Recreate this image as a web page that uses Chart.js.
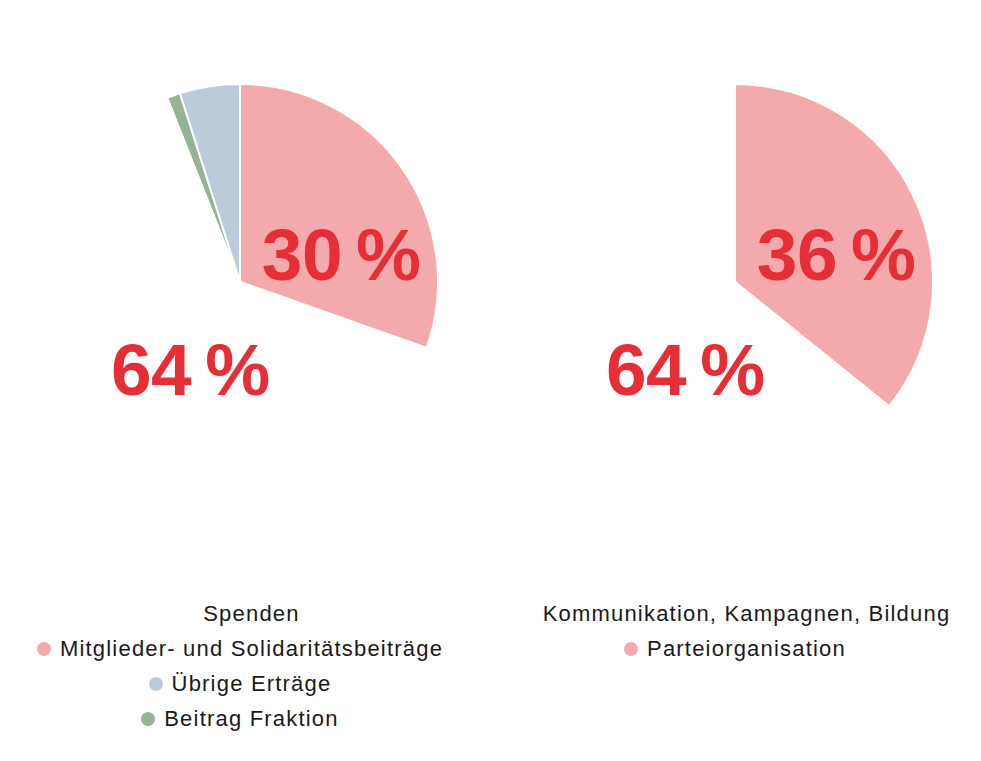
<!DOCTYPE html>
<html>
<head>
<meta charset="utf-8">
<script src="https://cdn.jsdelivr.net/npm/chart.js@4"></script>
<style>
  html, body { margin: 0; padding: 0; background: #fff; }
  body { width: 981px; height: 761px; position: relative; overflow: hidden; font-family: "Liberation Sans", Arial, sans-serif; }
  .pie { position: absolute; top: 83px; height: 398px; }
  .legend { position: absolute; top: 596px; margin: 0; padding: 0; list-style: none; font-size: 22px; letter-spacing: 1.2px; color: #1a1a1a; }
  .legend li { display: flex; justify-content: center; align-items: center; height: 35px; white-space: nowrap; }
  .legend .dot { display: inline-block; width: 14px; height: 14px; border-radius: 50%; margin-right: 9px; }
</style>
</head>
<body>
<div class="pie" style="left:0;width:480px"><canvas id="left-chart"></canvas></div>
<div class="pie" style="left:490px;width:490px"><canvas id="right-chart"></canvas></div>
<ul class="legend" id="left-legend" style="left:0;width:480px"></ul>
<ul class="legend" id="right-legend" style="left:490px;width:490px"></ul>
<script>
  var leftLabels = ['Spenden', 'Mitglieder- und Solidaritätsbeiträge', 'Übrige Erträge', 'Beitrag Fraktion'];
  var leftValues = [63.6, 30.4, 4.9, 1.1];
  var leftColors = ['#ffffff', '#f4a9ad', '#bbcbda', '#96b495'];

  var rightLabels = ['Kommunikation, Kampagnen, Bildung', 'Parteiorganisation'];
  var rightValues = [64.2, 35.8];
  var rightColors = ['#ffffff', '#f4a9ad'];

  // big red percentages, only on the larger slices
  var pctLabels = {
    id: 'pctLabels',
    afterDatasetsDraw: function(chart) {
      var ctx = chart.ctx;
      var values = chart.data.datasets[0].data;
      chart.getDatasetMeta(0).data.forEach(function(arc, i) {
        if (values[i] < 10) return;
        var p = arc.getProps(['x', 'y', 'startAngle', 'endAngle', 'outerRadius'], true);
        var mid = (p.startAngle + p.endAngle) / 2;
        var right = Math.cos(mid) > 0;
        var upper = Math.sin(mid) < 0;
        ctx.save();
        ctx.font = 'bold 73px "Liberation Sans", Arial, sans-serif';
        ctx.letterSpacing = '-0.5px';
        ctx.fillStyle = '#e62e36';
        ctx.textAlign = right ? 'left' : 'right';
        ctx.textBaseline = 'alphabetic';
        ctx.fillText(Math.round(values[i]) + '\u2009%',
          p.x + p.outerRadius * (right ? 0.11 : 0.15),
          p.y + p.outerRadius * (upper ? -0.01 : 0.57));
        ctx.restore();
      });
    }
  };

  // legend as html list, one entry per line
  var htmlLegend = {
    id: 'htmlLegend',
    afterUpdate: function(chart, args, opts) {
      var ul = document.getElementById(opts.containerID);
      ul.innerHTML = '';
      var items = chart.options.plugins.legend.labels.generateLabels(chart).reverse();
      items.forEach(function(item) {
        var li = document.createElement('li');
        var dot = document.createElement('span');
        dot.className = 'dot';
        dot.style.background = item.fillStyle;
        li.appendChild(dot);
        li.appendChild(document.createTextNode(item.text));
        ul.appendChild(li);
      });
    }
  };

  function makePie(id, legendId, labels, values, colors) {
    // slices run against legend order, second category starts at 12 o'clock
    var revLabels = labels.slice().reverse();
    var revValues = values.slice().reverse();
    var revColors = colors.slice().reverse();
    var total = values.reduce(function(a, b) { return a + b; }, 0);
    var before = revValues.slice(0, revLabels.indexOf(labels[1])).reduce(function(a, b) { return a + b; }, 0);

    return new Chart(document.getElementById(id).getContext('2d'), {
      type: 'pie',
      data: {
        labels: revLabels,
        datasets: [{
          data: revValues,
          backgroundColor: revColors,
          borderColor: '#ffffff',
          borderWidth: 2
        }]
      },
      options: {
        responsive: true,
        maintainAspectRatio: false,
        animation: false,
        rotation: -360 * before / total,
        layout: { padding: 0 },
        plugins: {
          legend: { display: false },
          tooltip: { enabled: false },
          htmlLegend: { containerID: legendId }
        }
      },
      plugins: [pctLabels, htmlLegend]
    });
  }

  makePie('left-chart', 'left-legend', leftLabels, leftValues, leftColors);
  makePie('right-chart', 'right-legend', rightLabels, rightValues, rightColors);
</script>
</body>
</html>
